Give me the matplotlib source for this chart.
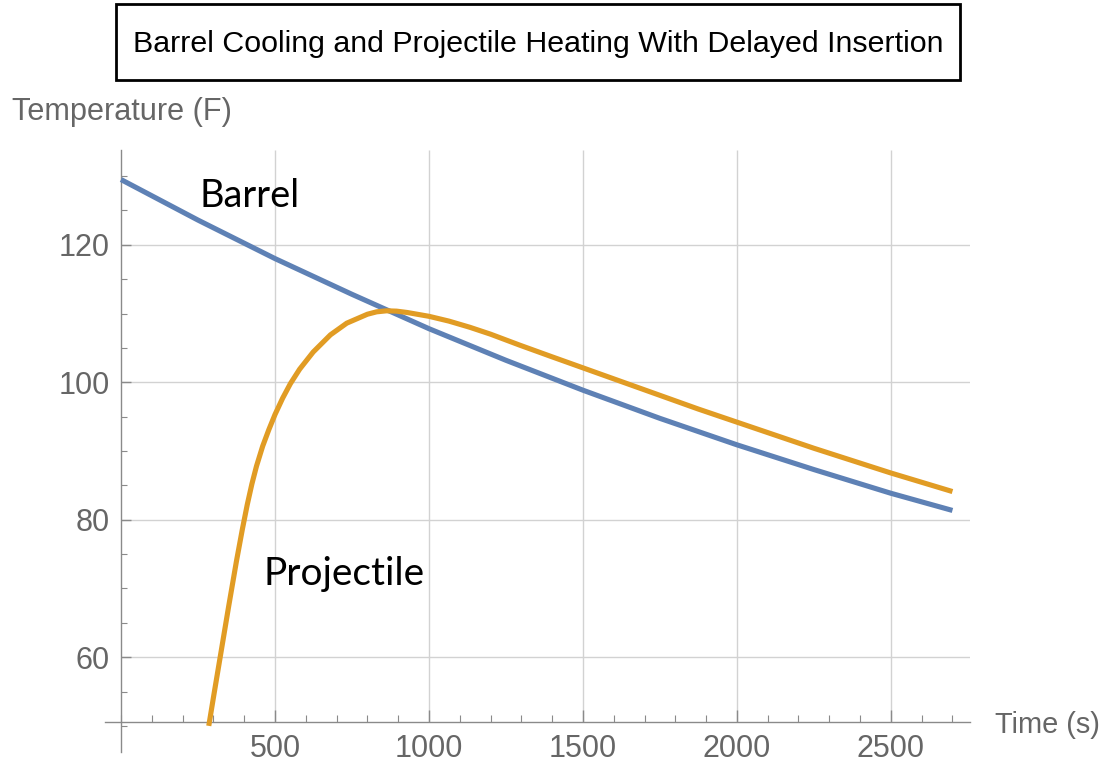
import matplotlib
matplotlib.use("Agg")
import matplotlib.pyplot as plt
from matplotlib.patches import Rectangle
from matplotlib.ticker import MultipleLocator, FixedLocator

# barrel temperature (F) against time (s)
barrel_t = [0, 250, 500, 750, 1000, 1250, 1500, 1750, 2000, 2250, 2500, 2700]
barrel_temp = [129.5, 123.6, 118.0, 112.8, 107.8, 103.2, 98.85, 94.75, 90.9,
               87.3, 83.85, 81.35]

# projectile temperature (F), inserted after a delay
proj_t = [285, 300, 325, 350, 375, 394, 410, 425, 440, 460, 480, 500, 525,
          550, 580, 624, 680, 733, 800, 830, 862, 895, 930, 1000, 1065, 1133,
          1200, 1295, 1400, 1500, 1625, 1750, 1875, 2000, 2250, 2500, 2700]
proj_temp = [50.0, 54.1, 60.8, 67.5, 74.0, 78.6, 82.2, 85.2, 87.8, 90.7, 93.1,
             95.3, 97.7, 99.8, 101.9, 104.4, 106.9, 108.6, 109.9, 110.25,
             110.4, 110.35, 110.15, 109.6, 108.9, 108.0, 107.0, 105.4, 103.7,
             102.1, 100.1, 98.1, 96.1, 94.2, 90.4, 86.8, 84.1]

x_major = [500, 1000, 1500, 2000, 2500]
y_major = [60, 80, 100, 120]

title = "Barrel Cooling and Projectile Heating With Delayed Insertion"
x_label = "Time (s)"
y_label = "Temperature (F)"

BLUE = "#5E81B5"
ORANGE = "#E19C24"
GREY = "#666666"
AXIS = "#8a8a8a"
GRID = "#d2d2d2"

W, H = 1109, 773
XLIM = (-52, 2757)
YLIM = (46.2, 133.8)
X_AXIS_AT = 50.55

fig = plt.figure(figsize=(W / 100, H / 100), dpi=100)
ax = fig.add_axes([105 / W, 1 - 752 / H, 865 / W, 602 / H])
ax.set_xlim(*XLIM)
ax.set_ylim(*YLIM)
ax.patch.set_visible(False)


def px(x, y):
    return x / W, 1 - y / H


# Mathematica-style axes crossing inside the frame
for side in ("top", "right"):
    ax.spines[side].set_visible(False)
ax.spines["left"].set_position(("data", 0))
ax.spines["bottom"].set_position(("data", X_AXIS_AT))
for side in ("left", "bottom"):
    ax.spines[side].set_color(AXIS)
    ax.spines[side].set_linewidth(1.0)

ax.xaxis.set_major_locator(FixedLocator(x_major))
ax.xaxis.set_minor_locator(MultipleLocator(100))
ax.yaxis.set_major_locator(FixedLocator(y_major))
ax.yaxis.set_minor_locator(MultipleLocator(5))
ax.tick_params(axis="x", which="major", direction="in", length=8.6, width=1,
               color=AXIS, labelcolor=GREY, pad=8.5)
ax.tick_params(axis="x", which="minor", direction="in", length=5, width=0.8,
               color=AXIS)
ax.tick_params(axis="y", which="major", direction="in", length=7.2, width=1,
               color=AXIS, labelcolor=GREY, pad=8)
ax.tick_params(axis="y", which="minor", direction="in", length=4.3, width=0.8,
               color=AXIS)
for lab in ax.get_xticklabels() + ax.get_yticklabels():
    lab.set_family("Liberation Sans")
    lab.set_fontsize(22)

# grid lines stop at the axes
ax.vlines(x_major, X_AXIS_AT, YLIM[1], color=GRID, lw=1.0, zorder=0)
ax.hlines(y_major, 0, XLIM[1], color=GRID, lw=1.0, zorder=0)

ax.plot(barrel_t, barrel_temp, color=BLUE, lw=3.7, solid_capstyle="butt",
        solid_joinstyle="round", zorder=3)
ax.plot(proj_t, proj_temp, color=ORANGE, lw=3.7, solid_capstyle="butt",
        solid_joinstyle="round", zorder=4)

t_barrel = ax.text(256, 125.5, "Barrel", family="Lato", fontsize=27,
                   color="black", va="baseline", ha="left")
t_proj = ax.text(464, 70.5, "Projectile", family="Lato", fontsize=27,
                 color="black", va="baseline", ha="left")

t_title = fig.text(*px(538, 52), title, family="Liberation Sans",
                   fontsize=20, color="black", ha="center", va="baseline")
fig.patches.append(Rectangle(px(116, 80), 844 / W, 76 / H, fill=False,
                             edgecolor="black", lw=2.0,
                             transform=fig.transFigure, figure=fig))

t_y = fig.text(*px(12, 120), y_label, family="Liberation Sans", fontsize=21,
               color=GREY, ha="left", va="baseline")
t_x = fig.text(*px(995, 733), x_label, family="Liberation Sans", fontsize=21,
               color=GREY, ha="left", va="baseline")


def fit_width(txt, width_px):
    # scale the font so the rendered string spans the given pixel width
    fig.canvas.draw()
    w = txt.get_window_extent(fig.canvas.get_renderer()).width
    txt.set_fontsize(txt.get_fontsize() * width_px / w)


fit_width(t_title, 809)
fit_width(t_y, 220)
fit_width(t_x, 105)
fit_width(t_barrel, 100)
fit_width(t_proj, 161)

fig.savefig("out.png", dpi=100)
